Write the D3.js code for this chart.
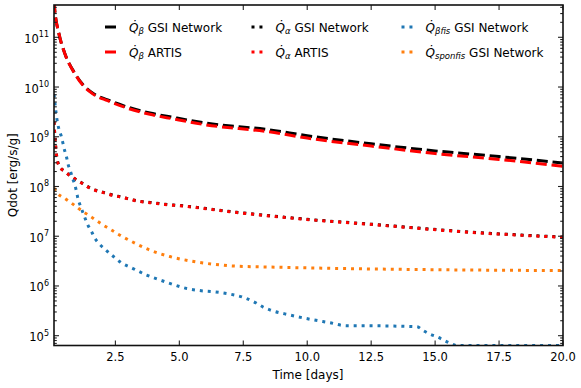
<!DOCTYPE html>
<html>
<head>
<meta charset="utf-8">
<script src="https://cdn.jsdelivr.net/npm/d3@7"></script>
<style>
  body { margin:0; background:#fff; }
  svg { display:block; font-family:"DejaVu Sans", sans-serif; }
</style>
</head>
<body>
<div id="chart"></div>
<script>
// Qdot vs time, log y axis.

const betaGsiDays = [0.1, 0.13, 0.29, 0.52, 0.91, 1.24, 1.63, 2.2, 2.94, 3.85, 4.76, 6, 8.5, 10, 12.5, 15, 17.5, 20];
const betaGsiQdot = [5.2e11, 3.5e11, 1.2e11, 4.8e10, 1.9e10, 1.1e10, 7.4e9, 5.5e9, 4.0e9, 3.0e9, 2.45e9, 1.9e9, 1.38e9, 1.05e9, 7.2e8, 5.2e8, 4.0e8, 2.95e8];

const betaArtisDays = [0.1, 0.13, 0.29, 0.52, 0.91, 1.24, 1.63, 2.2, 2.94, 3.85, 4.76, 6, 8.5, 10, 12.5, 15, 17.5, 20];
const betaArtisQdot = [5.2e11, 3.5e11, 1.2e11, 4.75e10, 1.87e10, 1.07e10, 7.2e9, 5.3e9, 3.8e9, 2.83e9, 2.29e9, 1.75e9, 1.26e9, 9.4e8, 6.5e8, 4.6e8, 3.5e8, 2.55e8];

const alphaDays = [0.1, 0.15, 0.22, 0.32, 0.52, 0.75, 0.98, 1.21, 1.47, 1.73, 2.0, 2.26, 2.8, 3.35, 3.91, 4.43, 5.0, 7.24, 9.85, 12.4, 16.37, 20];
const alphaGsiQdot = [2.0e9, 8.0e8, 3.6e8, 2.52e8, 2.02e8, 1.63e8, 1.36e8, 1.16e8, 9.6e7, 8.4e7, 7.7e7, 7.0e7, 6.05e7, 5.15e7, 4.75e7, 4.4e7, 4.15e7, 3.03e7, 2.22e7, 1.76e7, 1.21e7, 9.6e6];
const alphaArtisQdot = [2.0e9, 7.9e8, 3.55e8, 2.5e8, 2.0e8, 1.62e8, 1.35e8, 1.15e8, 9.5e7, 8.3e7, 7.6e7, 6.9e7, 6.0e7, 5.1e7, 4.7e7, 4.35e7, 4.1e7, 3.0e7, 2.2e7, 1.74e7, 1.2e7, 9.5e6];

const betaFisDays = [0.1, 0.13, 0.23, 0.3, 0.39, 0.45, 0.52, 0.59, 0.65, 0.74, 0.82, 0.91, 0.98, 1.04, 1.13, 1.24, 1.43, 1.57, 1.69, 1.86, 2.09, 2.48, 2.7, 3.19, 3.72, 4.24, 4.76, 5.28, 5.78, 6.39, 6.95, 7.5, 8.02, 8.26, 8.54, 9.33, 10.11, 10.89, 11.55, 12.4, 14.29, 14.54, 14.8, 15.07, 15.55, 15.85, 17, 18.5, 20];
const betaFisQdot = [7.1e9, 5.1e9, 2.0e9, 1.38e9, 1.0e9, 7.4e8, 5.2e8, 3.9e8, 2.8e8, 2.04e8, 1.5e8, 1.1e8, 7.9e7, 5.6e7, 4.1e7, 2.9e7, 1.66e7, 1.23e7, 9.3e6, 7.1e6, 5.5e6, 3.7e6, 3.0e6, 2.24e6, 1.66e6, 1.32e6, 1.07e6, 8.9e5, 8.1e5, 7.6e5, 6.9e5, 5.9e5, 4.5e5, 3.8e5, 3.3e5, 2.6e5, 2.14e5, 1.82e5, 1.58e5, 1.58e5, 1.51e5, 1.26e5, 1.07e5, 9.5e4, 7.2e4, 6.35e4, 6.35e4, 6.35e4, 6.35e4];

const sponFisDays = [0.1, 0.26, 0.49, 0.74, 0.98, 1.2, 1.43, 1.66, 1.89, 2.13, 2.36, 2.61, 2.86, 3.35, 3.85, 4.63, 5.48, 5.93, 7.24, 8.54, 12.46, 16, 20];
const sponFisQdot = [9.3e7, 7.1e7, 5.9e7, 4.8e7, 3.9e7, 3.2e7, 2.7e7, 2.24e7, 1.86e7, 1.55e7, 1.32e7, 1.1e7, 9.3e6, 6.9e6, 5.25e6, 3.9e6, 3.15e6, 2.9e6, 2.5e6, 2.4e6, 2.2e6, 2.1e6, 2.04e6];

const xTicks = [2.5, 5.0, 7.5, 10.0, 12.5, 15.0, 17.5, 20.0];
const yExponents = [5, 6, 7, 8, 9, 10, 11];

// series: days, values, colour, dash pattern, legend subscript, legend suffix
const series = [
  { x: betaGsiDays,   y: betaGsiQdot,   color: "#000000", dash: "11,4.8", sub: "β",       name: "GSI Network" },
  { x: betaArtisDays, y: betaArtisQdot, color: "#ff0000", dash: "11,4.8", sub: "β",       name: "ARTIS" },
  { x: alphaDays,     y: alphaGsiQdot,  color: "#000000", dash: "3,4.95", sub: "α",       name: "GSI Network" },
  { x: alphaDays,     y: alphaArtisQdot,color: "#ff0000", dash: "3,4.95", sub: "α",       name: "ARTIS" },
  { x: betaFisDays,   y: betaFisQdot,   color: "#1f77b4", dash: "3,4.95", sub: "βfis",    name: "GSI Network" },
  { x: sponFisDays,   y: sponFisQdot,   color: "#ff7f0e", dash: "3,4.95", sub: "sponfis", name: "GSI Network" },
];

const W = 581, H = 388;
const plot = { left: 54, right: 563, top: 5, bottom: 345.5 };

const svg = d3.select("#chart").append("svg")
  .attr("width", W).attr("height", H);

const x = d3.scaleLinear().domain([0.1, 20]).range([plot.left, plot.right]);
const y = d3.scaleLog().domain([6.35e4, 4.46e11]).range([plot.bottom, plot.top]);

svg.append("clipPath").attr("id", "clip")
  .append("rect")
  .attr("x", plot.left).attr("y", plot.top)
  .attr("width", plot.right - plot.left).attr("height", plot.bottom - plot.top);

const line = d3.line()
  .x(d => x(d[0]))
  .y(d => y(d[1]))
  .curve(d3.curveMonotoneX);

const lines = svg.append("g").attr("clip-path", "url(#clip)");
series.forEach(s => {
  lines.append("path")
    .datum(d3.zip(s.x, s.y))
    .attr("d", line)
    .attr("fill", "none")
    .attr("stroke", s.color)
    .attr("stroke-width", 3)
    .attr("stroke-dasharray", s.dash)
    .attr("stroke-linecap", "butt");
});

// ticks, inward on all four sides
const axes = svg.append("g").attr("stroke", "#222");
const majorLen = 5, minorLen = 2.8;

xTicks.forEach(t => {
  const px = x(t);
  axes.append("line").attr("x1", px).attr("x2", px).attr("y1", plot.bottom).attr("y2", plot.bottom - majorLen).attr("stroke-width", 1.1);
  axes.append("line").attr("x1", px).attr("x2", px).attr("y1", plot.top).attr("y2", plot.top + majorLen).attr("stroke-width", 1.1);
  svg.append("text")
    .attr("x", px).attr("y", 361)
    .attr("text-anchor", "middle")
    .attr("font-size", 11.5)
    .text(d3.format(".1f")(t));
});

const [ylo, yhi] = y.domain();
for (let e = 4; e <= 11; e++) {
  for (let m = 1; m <= 9; m++) {
    const v = m * Math.pow(10, e);
    if (v < ylo || v > yhi) continue;
    const py = y(v);
    const len = m === 1 ? majorLen : minorLen;
    axes.append("line").attr("x1", plot.left).attr("x2", plot.left + len).attr("y1", py).attr("y2", py).attr("stroke-width", 1.1);
    axes.append("line").attr("x1", plot.right).attr("x2", plot.right - len).attr("y1", py).attr("y2", py).attr("stroke-width", 1.1);
  }
}

yExponents.forEach(e => {
  const py = y(Math.pow(10, e));
  const t = svg.append("text")
    .attr("x", 49).attr("y", py + 5.5)
    .attr("text-anchor", "end")
    .attr("font-size", 11.5);
  t.append("tspan").text("10");
  t.append("tspan").attr("dy", -5.5).attr("font-size", 8).text(e);
});

// frame
svg.append("rect")
  .attr("x", plot.left).attr("y", plot.top)
  .attr("width", plot.right - plot.left).attr("height", plot.bottom - plot.top)
  .attr("fill", "none").attr("stroke", "#111").attr("stroke-width", 1.6);

svg.append("text")
  .attr("x", 308).attr("y", 379)
  .attr("text-anchor", "middle")
  .attr("font-size", 12)
  .text("Time [days]");

svg.append("text")
  .attr("transform", `translate(17,${(plot.top + plot.bottom) / 2}) rotate(-90)`)
  .attr("text-anchor", "middle")
  .attr("font-size", 12)
  .text("Qdot [erg/s/g]");

// legend: 3 columns x 2 rows, filled column-wise
const colX = [105, 251.5, 401.5];
const rowY = [27, 52];
const legend = svg.append("g");
series.forEach((s, i) => {
  const cx = colX[Math.floor(i / 2)];
  const cy = rowY[i % 2];
  legend.append("line")
    .attr("x1", cx).attr("x2", cx + 12)
    .attr("y1", cy).attr("y2", cy)
    .attr("stroke", s.color)
    .attr("stroke-width", 3)
    .attr("stroke-dasharray", s.dash);
  const t = legend.append("text")
    .attr("x", cx + 24).attr("y", cy + 4.5)
    .attr("font-size", 12);
  t.append("tspan").attr("font-style", "italic").text("Q\u0307");
  t.append("tspan").attr("font-style", "italic").attr("font-size", 8.5).attr("dy", 2.5).text(s.sub);
  t.append("tspan").attr("dy", -2.5).text(" " + s.name);
});
</script>
</body>
</html>
